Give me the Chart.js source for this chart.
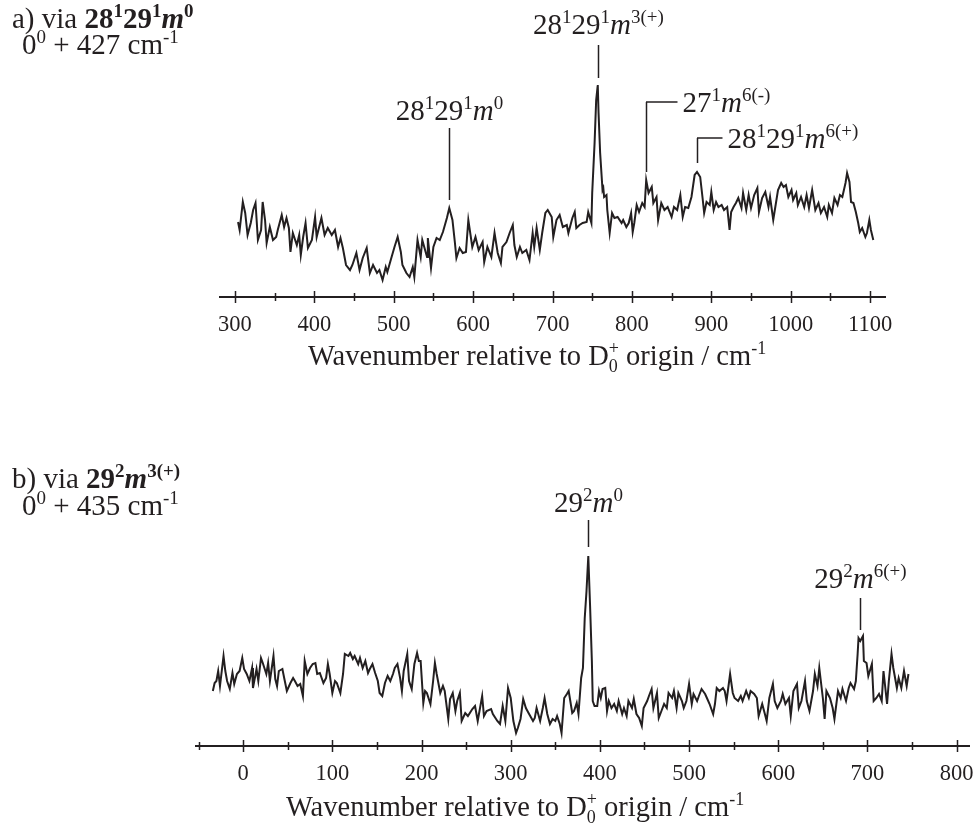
<!DOCTYPE html>
<html>
<head>
<meta charset="utf-8">
<script src="https://cdn.jsdelivr.net/npm/chart.js@4.4.1/dist/chart.umd.min.js"></script>
<style>
  html, body { margin: 0; padding: 0; background: #fff; }
  #wrap { position: relative; width: 974px; height: 827px; overflow: hidden; }
  canvas { position: absolute; left: 0; }
  #chart-a { top: 0; }
  #chart-b { top: 400px; }
</style>
</head>
<body>
<div id="wrap">
  <canvas id="chart-a" width="974" height="400"></canvas>
  <canvas id="chart-b" width="974" height="427"></canvas>
</div>
<script>
(function () {
  'use strict';

  // ---- panel a: via 28^1 29^1 m^0 (wavenumber / cm-1, intensity arb.) ----
  var specA_wn = [304,306,310,313,316,320,323,326,329,333,335,338,340,344,348,352,354,359,362,365,368,370,373,378,381,383,386,389,392,397,
    401,403,409,413,417,422,426,430,433,436,440,445,448,453,457,461,466,470,474,479,482,486,490,492,497,
    501,505,509,511,516,520,524,526,530,534,536,542,543,547,550,554,558,562,567,570,574,577,579,583,587,591,594,599,
    603,607,612,614,618,623,627,631,635,637,642,646,650,652,655,659,662,667,671,675,677,680,684,687,691,694,699,
    701,705,709,713,718,720,725,728,730,734,738,743,745,749,750,753,755,757,758,760,763,764,765,768,769,772,775,778,782,787,789,793,796,799,
    801,803,806,809,813,816,818,821,825,827,831,833,837,841,845,850,853,857,861,864,867,871,875,879,882,886,889,891,894,898,
    900,903,906,909,913,916,920,923,925,928,931,934,938,940,944,947,950,954,958,960,964,968,972,974,978,982,984,988,991,994,997,
    1001,1003,1007,1009,1013,1017,1020,1023,1027,1031,1035,1038,1042,1046,1048,1052,1055,1059,1062,1065,1069,1071,1074,1076,1079,1082,1085,1087,1090,1094,1096,1099,1101,1104];
  var specA_int = [75,67,95,84,62,74,87,94,57,67,95,77,54,70,57,60,67,82,70,79,69,45,64,52,62,42,60,74,49,57,
    80,60,79,62,69,62,67,50,59,49,32,27,32,44,27,39,49,24,32,24,27,17,30,25,39,
    50,60,45,32,24,20,30,20,57,40,57,40,59,29,50,59,57,65,79,89,77,55,39,49,44,45,77,50,
    60,47,55,35,50,40,64,44,34,50,55,64,72,52,40,50,44,47,37,64,50,69,47,64,84,87,80,
    60,77,82,70,72,64,79,85,69,72,74,75,85,74,104,154,197,212,184,144,107,109,100,102,87,64,84,79,80,74,77,70,74,84,
    65,74,92,85,94,90,117,104,110,94,100,77,94,87,90,80,90,87,102,80,90,89,100,122,125,120,99,84,95,92,
    105,87,95,90,92,87,90,67,85,90,94,99,89,104,87,102,89,102,109,85,99,105,90,100,77,97,107,114,110,112,100,
    107,97,104,92,100,90,102,89,107,87,94,84,90,80,92,84,99,92,102,100,114,124,115,95,94,85,74,65,69,60,64,77,67,57];
  var ticksA = [300, 400, 500, 600, 700, 800, 900, 1000, 1100];
  var peaksA = [570, 757, 818, 882];

  // ---- panel b: via 29^2 m^3(+) ----
  var specB_wn = [-34,-32,-30,-28,-26,-22,-20,-18,-15,-12,-10,-7,-4,-1,1,4,7,10,11,15,17,20,22,26,28,30,34,36,38,40,44,46,49,
    53,56,58,61,64,67,69,72,75,78,81,83,86,90,93,95,97,100,103,105,109,112,114,118,120,123,125,129,131,134,137,140,142,145,148,
    151,153,156,159,162,165,168,170,173,176,178,180,184,186,189,192,195,197,199,202,204,206,210,213,215,217,221,224,226,230,232,235,238,240,243,245,249,
    252,257,260,263,268,270,273,278,280,285,288,291,294,297,300,303,306,308,311,314,317,320,325,327,329,333,336,338,341,344,347,
    350,352,355,357,360,363,365,369,371,374,376,379,381,383,385,387,389,391,392,394,397,399,401,403,406,408,410,413,416,419,421,425,427,430,432,436,438,
    441,444,447,449,453,455,458,460,464,466,469,472,475,477,481,483,486,488,492,494,497,500,503,505,509,511,514,518,520,523,527,529,531,534,538,540,542,546,549,
    551,555,558,560,564,567,569,573,576,578,582,585,587,590,594,596,599,603,605,608,612,614,617,621,623,626,630,632,635,639,641,644,646,
    650,652,654,658,661,663,667,670,672,676,679,681,685,687,689,690,692,695,696,699,701,705,707,710,713,716,718,722,724,727,729,733,735,738,741,744,746];
  var specB_int = [55,63,65,75,60,90,75,65,57,73,62,72,75,88,77,72,65,78,58,77,65,88,83,72,83,65,90,67,60,75,77,68,55,
    63,68,65,60,62,50,85,72,78,82,83,72,73,63,68,82,72,53,65,63,53,72,92,90,93,87,90,82,88,78,85,73,77,82,73,
    65,53,50,63,70,65,72,78,82,68,55,75,92,65,57,82,93,85,85,43,55,53,42,65,83,72,53,60,55,27,47,53,35,45,53,25,33,
    30,37,40,25,50,30,35,37,32,25,22,40,25,58,48,25,13,18,27,47,38,33,25,28,38,25,38,48,32,22,27,
    25,30,22,13,48,52,55,33,35,43,32,68,78,128,155,190,140,85,45,40,40,55,48,57,58,35,45,38,42,35,45,32,38,30,45,38,47,
    32,28,20,38,45,50,57,38,53,28,35,42,38,53,48,55,38,53,45,38,45,62,42,52,45,50,57,52,48,42,32,42,58,55,58,55,45,72,53,
    48,45,50,45,55,48,55,52,48,30,42,32,25,48,62,45,38,45,52,42,48,30,55,62,38,45,65,45,35,55,72,60,78,
    48,27,55,48,38,27,55,48,57,45,58,63,57,65,92,108,105,110,85,83,70,82,45,48,52,45,75,42,65,92,78,58,68,58,75,60,72];
  var ticksB = [0, 100, 200, 300, 400, 500, 600, 700, 800];
  var peaksB = [387, 692];

  var INK = '#231f20';
  var SERIF = '"Liberation Serif", "Times New Roman", serif';

  // rich text parts: [text, flags]; b=bold i=italic ^=sup _=sub k=keep x (stack next part)
  var lblA1 = [['28', ''], ['1', '^'], ['29', ''], ['1', '^'], ['m', 'i'], ['0', '^']];
  var lblA2 = [['28', ''], ['1', '^'], ['29', ''], ['1', '^'], ['m', 'i'], ['3(+)', '^']];
  var lblA3 = [['27', ''], ['1', '^'], ['m', 'i'], ['6(-)', '^']];
  var lblA4 = [['28', ''], ['1', '^'], ['29', ''], ['1', '^'], ['m', 'i'], ['6(+)', '^']];
  var lblB1 = [['29', ''], ['2', '^'], ['m', 'i'], ['0', '^']];
  var lblB2 = [['29', ''], ['2', '^'], ['m', 'i'], ['6(+)', '^']];
  var headA1 = [['a) via ', ''], ['28', 'b'], ['1', 'b^'], ['29', 'b'], ['1', 'b^'], ['m', 'bi'], ['0', 'b^']];
  var headA2 = [['0', ''], ['0', '^'], [' + 427 cm', ''], ['-1', '^']];
  var headB1 = [['b) via ', ''], ['29', 'b'], ['2', 'b^'], ['m', 'bi'], ['3(+)', 'b^']];
  var headB2 = [['0', ''], ['0', '^'], [' + 435 cm', ''], ['-1', '^']];
  var xTitle = [['Wavenumber relative to D', ''], ['0', '_k'], ['+', '^'], [' origin / cm', ''], ['-1', '^']];

  function has(f, c) { return f.indexOf(c) >= 0; }

  function fontFor(f, size) {
    var s = (has(f, '^') || has(f, '_')) ? Math.round(size * 0.64) : size;
    return (has(f, 'i') ? 'italic ' : '') + (has(f, 'b') ? 'bold ' : '') + s + 'px ' + SERIF;
  }

  function richWidth(ctx, parts, size) {
    var w = 0;
    parts.forEach(function (p) {
      ctx.font = fontFor(p[1], size);
      if (!has(p[1], 'k')) w += ctx.measureText(p[0]).width;
    });
    return w;
  }

  function drawRich(ctx, parts, x, y, size, align) {
    var cx = align === 'center' ? x - richWidth(ctx, parts, size) / 2 : x;
    ctx.textAlign = 'left';
    ctx.textBaseline = 'alphabetic';
    ctx.fillStyle = INK;
    parts.forEach(function (p) {
      var f = p[1];
      ctx.font = fontFor(f, size);
      var dy = has(f, '^') ? -size * 0.38 : (has(f, '_') ? size * 0.24 : 0);
      ctx.fillText(p[0], cx, y + dy);
      if (!has(f, 'k')) cx += ctx.measureText(p[0]).width;
    });
  }

  function vline(ctx, x, y1, y2) {
    ctx.beginPath(); ctx.moveTo(x, y1); ctx.lineTo(x, y2); ctx.stroke();
  }

  var decoPlugin = {
    id: 'deco',
    afterDraw: function (chart, args, opts) {
      var ctx = chart.ctx, xs = chart.scales.x, area = chart.chartArea;
      ctx.save();
      ctx.strokeStyle = INK;

      // axis line with ticks crossing it
      ctx.lineWidth = 2;
      ctx.beginPath(); ctx.moveTo(area.left, area.bottom); ctx.lineTo(area.right, area.bottom); ctx.stroke();
      ctx.lineWidth = 1.5;
      for (var v = Math.ceil(xs.min / 50) * 50; v <= xs.max; v += 50) {
        var px = Math.round(xs.getPixelForValue(v)) + 0.5;
        var h = (v % 100 === 0) ? 6 : 4;
        vline(ctx, px, area.bottom - h, area.bottom + h);
      }

      // peak labels
      ctx.lineWidth = 1.5;
      opts.notes.forEach(function (n) {
        var x = Math.round(xs.getPixelForValue(n.wn)) + 0.5;
        if (n.bar) {
          vline(ctx, x, n.barY, n.bottom);
          ctx.beginPath(); ctx.moveTo(x - 0.5, n.barY); ctx.lineTo(x + n.bar, n.barY); ctx.stroke();
          drawRich(ctx, n.text, x + n.bar + 5, n.labelY, 29, 'left');
        } else {
          vline(ctx, x, n.top, n.bottom);
          drawRich(ctx, n.text, x, n.labelY, 29, 'center');
        }
      });

      opts.heads.forEach(function (h) { drawRich(ctx, h.text, h.x, h.y, 29, 'left'); });
      drawRich(ctx, xTitle, opts.titleX, opts.titleY, 28.5, 'left');
      ctx.restore();
    }
  };

  function makeChart(id, wn, inten, cfg) {
    var points = wn.map(function (x, i) { return { x: x, y: inten[i] }; });
    return new Chart(document.getElementById(id), {
      type: 'line',
      data: { datasets: [{ data: points, borderColor: INK, borderWidth: 2, pointRadius: 0, tension: 0, fill: false }] },
      options: {
        responsive: false,
        animation: false,
        devicePixelRatio: 1,
        layout: { padding: { left: cfg.left, right: cfg.right, top: cfg.top, bottom: 0 } },
        plugins: { legend: { display: false }, tooltip: { enabled: false }, deco: cfg.deco },
        scales: {
          x: {
            type: 'linear',
            min: cfg.min,
            max: cfg.max,
            afterBuildTicks: function (axis) { axis.ticks = cfg.ticks.map(function (v) { return { value: v }; }); },
            afterFit: function (axis) { axis.height = cfg.axisH; axis.paddingLeft = 0; axis.paddingRight = 0; },
            grid: { display: false },
            border: { display: false },
            ticks: {
              autoSkip: false, maxRotation: 0, padding: 7, color: INK,
              font: { family: SERIF, size: 22.5 },
              callback: function (v) { return String(v); }
            }
          },
          y: { display: false, min: 0, max: 240 }
        }
      },
      plugins: [decoPlugin]
    });
  }

  makeChart('chart-a', specA_wn, specA_int, {
    left: 219, right: 88, top: 57, axisH: 103, min: 280, max: 1120, ticks: ticksA,
    deco: {
      notes: [
        { wn: peaksA[0], text: lblA1, labelY: 120, top: 128, bottom: 200 },
        { wn: peaksA[1], text: lblA2, labelY: 34, top: 45, bottom: 78 },
        { wn: peaksA[2], text: lblA3, labelY: 112, bar: 31, barY: 102, bottom: 172 },
        { wn: peaksA[3], text: lblA4, labelY: 148, bar: 25, barY: 138, bottom: 163 }
      ],
      heads: [{ text: headA1, x: 12, y: 28 }, { text: headA2, x: 22, y: 54 }],
      titleX: 308, titleY: 365
    }
  });

  makeChart('chart-b', specB_wn, specB_int, {
    left: 195, right: 4, top: 106, axisH: 81, min: -54, max: 815, ticks: ticksB,
    deco: {
      notes: [
        { wn: peaksB[0], text: lblB1, labelY: 112, top: 120, bottom: 147 },
        { wn: peaksB[1], text: lblB2, labelY: 188, top: 198, bottom: 230 }
      ],
      heads: [{ text: headB1, x: 12, y: 88 }, { text: headB2, x: 22, y: 115 }],
      titleX: 286, titleY: 416
    }
  });
})();
</script>
</body>
</html>
